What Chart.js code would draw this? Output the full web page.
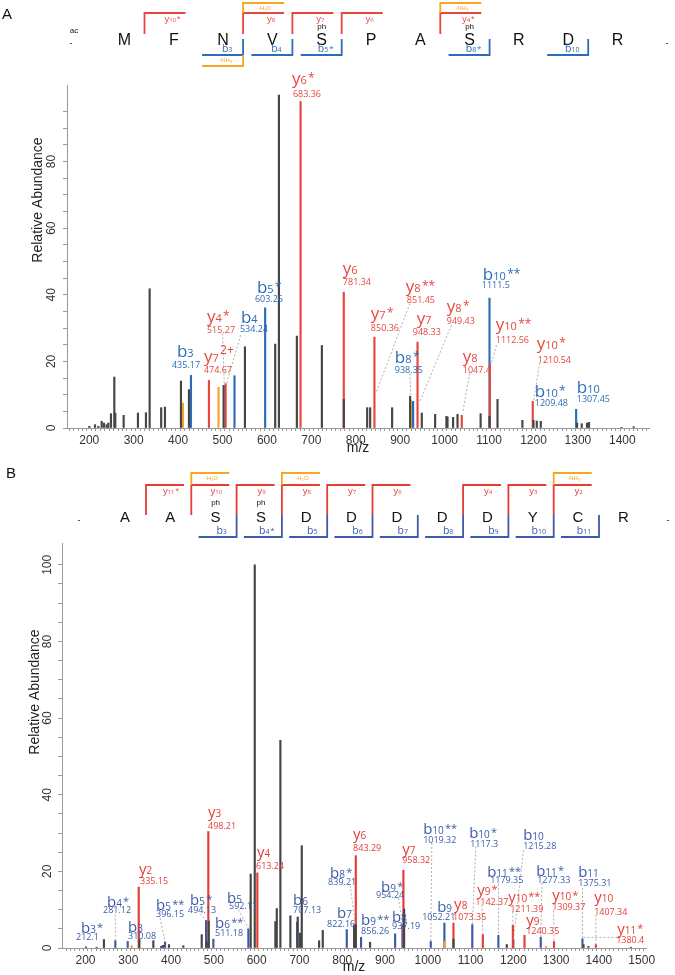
<!DOCTYPE html>
<html lang="en">
<head>
<meta charset="UTF-8">
<title>MS/MS spectra A and B</title>
<style>
  body { margin: 0; background: #fff; }
  canvas { position: absolute; left: 0; }
  #panelA { top: 0; }
  #panelB { top: 460px; }
</style>
</head>
<body>
<canvas id="panelA" width="675" height="460"></canvas>
<canvas id="panelB" width="675" height="515"></canvas>

<script src="https://cdn.jsdelivr.net/npm/chart.js"></script>
<script>
// ---------- panel A peaks (m/z, relative abundance) ----------
const aOtherMz = [200.2, 213, 220.5, 228, 233, 239, 243, 249, 256.5, 258.7, 277.5, 309.7, 327.7, 336, 362, 370.5, 406.5, 424.5, 502.5, 550.5, 618.6, 627, 667.4, 723.7, 773, 825.6, 832.4, 881.8, 922.3, 948.6, 978.6, 1004, 1006.5, 1019, 1029, 1081, 1101, 1119, 1175, 1200, 1207.4, 1216.4, 1298, 1308.6, 1320.5, 1325, 1398, 1425.6];
const aOtherAb = [0.5, 1.0, 0.5, 2.0, 1.5, 1.0, 1.5, 4.3, 15.3, 4.5, 3.8, 4.5, 4.6, 41.8, 6.1, 6.3, 14.1, 11.5, 12.8, 24.4, 25.2, 100, 27.6, 24.8, 8.6, 6.1, 6.1, 6.1, 9.5, 4.5, 4.1, 3.5, 3.3, 3.2, 4.1, 4.3, 3.5, 8.6, 2.3, 2.3, 2.1, 2.0, 1.5, 1.3, 1.5, 1.7, 0.2, 0.4];
const aYMz = [469.5, 507, 675.7, 773, 842, 939, 1038.6, 1102, 1198.4];
const aYAb = [14.3, 13.3, 98, 40.8, 27.3, 25.8, 3.8, 19.3, 8.0];
const aBMz = [429, 527, 596, 929, 1101, 1296];
const aBAb = [15.8, 15.7, 36.1, 8.0, 39, 5.6];
const aLossMz = [411, 491, 924];
const aLossAb = [7.5, 12.2, 8.3];

// ---------- panel B peaks ----------
const bOtherMz = [201, 226, 243, 325.8, 358.5, 376.5, 381, 395, 428.6, 471.6, 483, 488, 586, 595.5, 643.7, 647, 655.4, 678.8, 696, 701.5, 705.4, 745.9, 754.5, 827.7, 831.7, 865, 944.6, 1060, 1184.7, 1364, 1375.5, 1474.6];
const bOtherAb = [0.3, 0.2, 2.2, 2.2, 1.9, 0.4, 0.7, 0.9, 0.6, 3.5, 1.7, 7.0, 19.3, 100, 6.9, 10.3, 54.2, 8.4, 8.1, 3.9, 26.7, 1.9, 4.6, 6.0, 6.1, 1.5, 10.2, 2.3, 0.9, 0.9, 0.4, 0.2];
const bYMz = [324.3, 487, 601.6, 831.7, 943, 1060, 1128.6, 1198.8, 1226, 1295, 1392.8];
const bYAb = [15.9, 30.4, 19.6, 24.1, 20.3, 6.5, 3.5, 5.9, 3.3, 1.7, 0.9];
const bBMz = [269.6, 298.6, 385.8, 481.7, 498.8, 580.6, 694.5, 810.6, 844, 923.6, 940.7, 1007, 1038.8, 1104, 1165, 1200, 1264, 1361.5];
const bBAb = [1.9, 1.7, 1.6, 7.2, 2.3, 5.0, 6.8, 4.8, 2.8, 3.7, 6.1, 1.7, 6.5, 6.1, 3.3, 2.2, 2.8, 2.4];
const bLossMz = [308, 1039.5, 1276.6];
const bLossAb = [0.6, 1.7, 0.4];

// y tick labels shown on both panels
const yTickLabels = [0, 20, 40, 60, 80, 100];

// ---------- peak annotations: [ion, m/z text, anchor m/z, anchor abundance, value dx, value dy] ----------
const aLabels = [
  ['y6*', '683.36', 656.2, 103.2, 1, 13], ['b3', '435.17', 397.5, 21.3, -5, 11],
  ['y4*', '515.27', 465, 31.8, 0, 11], ['y7 2+', '474.67', 458.2, 19.8, 0, 11],
  ['b4', '534.24', 541.5, 31.5, -1, 9], ['b5*', '603.26', 577.4, 40.5, -2, 9],
  ['y6', '781.34', 770.9, 46.2, 0, 11], ['y8**', '851.45', 912.7, 40.8, 1, 11],
  ['y7*', '850.36', 833.9, 32.7, 0, 12], ['y7', '948.33', 937.4, 31.2, -4, 11],
  ['y8*', '949.43', 1004.9, 34.8, 0, 12], ['b8*', '938.35', 887.9, 19.5, 0, 10],
  ['y8', '1047.4', 1040.9, 19.8, 0, 11], ['b10**', '1111.5', 1085.9, 44.4, -1, 8],
  ['y10**', '1112.56', 1115.1, 29.4, 0, 13], ['y10*', '1210.54', 1207.4, 23.7, 1, 14],
  ['b10*', '1209.48', 1202.9, 9.3, 0, 9], ['b10', '1307.45', 1297.4, 10.5, 0, 9]
];
const bLabels = [
  ['b3*', '212.1', 189.4, 4.0, -5, 7], ['b4*', '281.12', 250.2, 10.8, -4, 6],
  ['b3', '310.08', 299.3, 4.3, 0, 7], ['y2', '335.15', 325, 19.4, 1, 10],
  ['b5**', '396.15', 364.8, 10.0, 0, 7], ['b5*', '494.13', 444.3, 11.3, -2, 8],
  ['y3', '498.21', 486.4, 34.3, 0, 12], ['b6**', '511.18', 502.7, 5.3, 0, 8],
  ['b5', '592.11', 530.8, 11.8, 2, 6], ['y4', '613.24', 600.9, 23.8, -1, 12],
  ['b6', '707.13', 685.1, 11.1, 0, 8], ['b8*', '839.21', 771.6, 18.3, -2, 7],
  ['b7', '822.16', 788, 7.9, -10, 9], ['y6', '843.29', 825.4, 28.5, 0, 12],
  ['b9**', '856.26', 844.1, 6.1, 0, 9], ['b9*', '954.24', 890.8, 14.7, -5, 6],
  ['y7', '958.32', 940, 24.6, 0, 9], ['b8', '937.19', 916.6, 6.9, 0, 7],
  ['b10**', '1019.32', 989.1, 29.8, 0, 9], ['b9', '1052.21', 1021.8, 9.5, -15, 8],
  ['y8', '1073.35', 1061.5, 10.3, -1, 11], ['b10*', '1117.3', 1096.6, 28.8, 1, 9],
  ['b11**', '1179.35', 1138.7, 18.6, 3, 6], ['y9*', '1142.37', 1115.3, 13.9, -2, 10],
  ['b10', '1215.28', 1222.9, 28.3, 0, 9], ['y10**', '1211.39', 1187.8, 12.1, 2, 10],
  ['y9', '1240.35', 1229.9, 6.1, 0, 9], ['b11*', '1277.33', 1253.2, 18.9, 1, 7],
  ['y10*', '1309.37', 1290.7, 12.4, 0, 10], ['b11', '1375.31', 1351.5, 18.6, 0, 9],
  ['y10', '1407.34', 1388.8, 12.1, 0, 13], ['y11*', '1380.4', 1442.6, 3.7, -1, 9]
];
// dotted leaders: [m1, ab1, m2, ab2]
const aLeaders = [[500.3, 28.4, 503.9, 13.4], [540.8, 27.9, 509.3, 13.4], [921.7, 37.4, 846.7, 10.9], [1015.4, 30.9, 944.1, 7.9], [921.7, 16.4, 924, 9.4], [1056.6, 16.4, 1040.2, 4.4], [1116.7, 24.9, 1105.4, 19.4], [1214, 19.6, 1200.6, 8.4]];
const bLeaders = [[269.6, 8.7, 269.6, 1.9], [374.1, 7.8, 385.8, 1.7], [467.7, 8.9, 481.7, 7.2], [557.3, 10, 580.6, 5.2], [818.4, 16.3, 830.1, 6.5], [931.3, 13, 941.6, 6.1], [1009.4, 27.4, 1007, 1.7], [1112.3, 26.5, 1104.3, 6.1], [1165, 16.8, 1165, 3.5], [1126.3, 11.3, 1128.6, 3.5], [1223.6, 25.6, 1200.2, 2.2], [1198.8, 9.5, 1198.8, 5.9], [1266.6, 17, 1264.2, 2.8], [1293.7, 9.8, 1295.3, 1.7], [1361.5, 15.7, 1361.5, 2.4], [1392.8, 8.7, 1392.8, 0.9], [1364, 2.8, 1442, 2.8]];

// ---------- peptide sequences and fragment brackets ----------
const seqA = ['M', 'F', 'N', 'V', 'S', 'P', 'A', 'S', 'R', 'D', 'R'];
const phosA = [4, 7];
const yIonsA = [[0, 'y10*'], [2, 'y8'], [3, 'y7'], [4, 'y6'], [6, 'y4*']];
const bIonsA = [[2, 'b3'], [3, 'b4'], [4, 'b5*'], [7, 'b8*'], [9, 'b10']];
const yLossA = [[2, '-H₂O'], [6, '-NH₃']];
const bLossA = [[2, '-NH₃']];

const seqB = ['A', 'A', 'S', 'S', 'D', 'D', 'D', 'D', 'D', 'Y', 'C', 'R'];
const phosB = [2, 3];
const yIonsB = [[0, 'y11*'], [1, 'y10'], [2, 'y9'], [3, 'y8'], [4, 'y7'], [5, 'y6'], [7, 'y4'], [8, 'y3'], [9, 'y2']];
const bIonsB = [[2, 'b3'], [3, 'b4*'], [4, 'b5'], [5, 'b6'], [6, 'b7'], [7, 'b8'], [8, 'b9'], [9, 'b10'], [10, 'b11']];
const yLossB = [[1, '-H₂O'], [3, '-H₂O'], [9, '-NH₃']];
const bLossB = [];

const FONT = '"Liberation Sans", Arial, sans-serif';
const LFONT = '"Open Sans", "Liberation Sans", sans-serif';
const GRAY = '#454545', ORANGE = '#f5a623';

function pts(mz, ab) { return mz.map((m, i) => ({ x: m, y: ab[i] })); }

// ion name like b10** : letter, subscript number, superscript rest
function ionText(ctx, x, y, name, size, color, align) {
  const p = name.match(/^([a-z])(\d+)\s?(.*)$/);
  const fMain = `${size}px ${LFONT}`, fSub = `${Math.round(size * 0.66)}px ${LFONT}`, fSup = `${Math.round(size * 0.72)}px ${LFONT}`;
  ctx.font = fMain; const w1 = ctx.measureText(p[1]).width;
  ctx.font = fSub; const w2 = ctx.measureText(p[2]).width;
  ctx.font = fSup; const w3 = p[3] ? ctx.measureText(p[3]).width + size * 0.08 : 0;
  let cx = align === 'center' ? x - (w1 + w2 + w3) / 2 : x;
  ctx.fillStyle = color; ctx.textAlign = 'left'; ctx.textBaseline = 'alphabetic';
  ctx.font = fMain; ctx.fillText(p[1], cx, y); cx += w1;
  ctx.font = fSub; ctx.fillText(p[2], cx, y); cx += w2 + size * 0.08;
  if (p[3]) {
    ctx.font = fSup;
    const raise = p[3].indexOf('+') >= 0 ? size * 0.45 : size * 0.12;
    ctx.fillText(p[3], cx, y - raise);
  }
}

function poly(ctx, color, list) {
  ctx.strokeStyle = color; ctx.beginPath();
  list.forEach(([x, y], i) => i ? ctx.lineTo(x, y) : ctx.moveTo(x, y));
  ctx.stroke();
}

function headerPlugin(h) {
  return {
    id: 'header',
    afterDraw(chart) {
      const ctx = chart.ctx;
      ctx.save();
      ctx.fillStyle = '#111'; ctx.textAlign = 'left'; ctx.textBaseline = 'alphabetic';
      ctx.font = `15px ${FONT}`;
      ctx.fillText(h.panel, h.panelX, h.panelY);
      ctx.textAlign = 'center';
      ctx.font = `${h.font}px ${FONT}`;
      h.seq.forEach((r, i) => ctx.fillText(r, h.x0 + i * h.step, h.base));
      ctx.font = `8px ${FONT}`;
      h.phos.forEach(i => ctx.fillText('ph', h.x0 + i * h.step, h.phY));
      if (h.ac) ctx.fillText('ac', h.nX, h.base - 12);
      ctx.font = `9px ${FONT}`;
      ctx.fillText('-', h.nX - 3, h.base + 1);
      ctx.fillText('-', h.cX, h.base + 1);

      // y-axis title, placed as in the original figure
      ctx.save();
      ctx.translate(h.yTitleX, h.yTitleY);
      ctx.rotate(-Math.PI / 2);
      ctx.fillStyle = '#222'; ctx.font = `14px ${FONT}`; ctx.textAlign = 'center'; ctx.textBaseline = 'middle';
      ctx.fillText('Relative Abundance', 0, 0);
      ctx.restore();

      const bx = k => h.x0 + k * h.step + h.off;
      ctx.lineWidth = 1.8;
      h.yIons.forEach(([k, name]) => {
        const x = bx(k);
        poly(ctx, h.red, [[x, h.yBot], [x, h.yTop], [x + h.len, h.yTop]]);
        ionText(ctx, x + h.yDx, h.yTop + 9, name, 9.5, h.red, 'center');
      });
      h.yLoss.forEach(([k, t]) => {
        const x = bx(k);
        poly(ctx, ORANGE, [[x, h.yTop], [x, h.lossTop], [x + h.len, h.lossTop]]);
        ctx.fillStyle = ORANGE; ctx.font = `6px ${FONT}`; ctx.textAlign = 'center';
        ctx.fillText(t, x + h.len / 2 + 1, h.lossTop + 6.5);
      });
      h.bIons.forEach(([k, name]) => {
        const x = bx(k);
        poly(ctx, h.blue, [[x, h.bTop], [x, h.bBot], [x - h.len, h.bBot]]);
        ionText(ctx, x + h.bDx, h.bBot - 3, name, 10.5, h.blue, 'center');
      });
      h.bLoss.forEach(([k, t]) => {
        const x = bx(k);
        poly(ctx, ORANGE, [[x, h.bBot], [x, h.bBot + 11], [x - h.len, h.bBot + 11]]);
        ctx.fillStyle = ORANGE; ctx.font = `6px ${FONT}`; ctx.textAlign = 'center';
        ctx.fillText(t, x - h.len / 2 + 3, h.bBot + 7);
      });
      ctx.restore();
    }
  };
}

function labelPlugin(list, leaders, size, red, blue) {
  return {
    id: 'peakLabels',
    afterDatasetsDraw(chart) {
      const ctx = chart.ctx, sx = chart.scales.x, sy = chart.scales.y;
      ctx.save();
      ctx.strokeStyle = '#9a9a9a'; ctx.lineWidth = 0.8; ctx.setLineDash([2, 2]);
      leaders.forEach(([m1, a1, m2, a2]) => {
        ctx.beginPath();
        ctx.moveTo(sx.getPixelForValue(m1), sy.getPixelForValue(a1));
        ctx.lineTo(sx.getPixelForValue(m2), sy.getPixelForValue(a2));
        ctx.stroke();
      });
      ctx.setLineDash([]);
      list.forEach(([ion, val, m, a, dx, dy]) => {
        const col = ion[0] === 'y' ? red : blue;
        const x = sx.getPixelForValue(m), y = sy.getPixelForValue(a);
        ionText(ctx, x, y, ion, size, col, 'left');
        ctx.font = `9px ${LFONT}`; ctx.fillStyle = col; ctx.textAlign = 'left';
        ctx.fillText(val, x + dx, y + dy);
      });
      ctx.restore();
    }
  };
}

function makeSpectrum(id, d) {
  return new Chart(document.getElementById(id), {
    type: 'bar',
    data: {
      datasets: [
        { label: 'unassigned', data: pts(d.oMz, d.oAb), backgroundColor: GRAY },
        { label: 'y ions', data: pts(d.yMz, d.yAb), backgroundColor: d.red },
        { label: 'neutral loss', data: pts(d.lMz, d.lAb), backgroundColor: ORANGE },
        { label: 'b ions', data: pts(d.bMz, d.bAb), backgroundColor: d.blue }
      ]
    },
    options: {
      responsive: false,
      animation: false,
      layout: { padding: { top: d.top, right: d.right, left: 0, bottom: 0 } },
      datasets: { bar: { grouped: false, barThickness: 1.5 } },
      plugins: { legend: { display: false }, tooltip: { enabled: false } },
      scales: {
        x: {
          type: 'linear', min: d.xMin, max: d.xMax, offset: false,
          grid: { drawOnChartArea: false, tickLength: 3, color: '#999', tickColor: '#999' },
          border: { color: '#999', width: 1 },
          ticks: {
            stepSize: 10, autoSkip: false, maxRotation: 0, minRotation: 0, padding: 2,
            color: '#333', font: { family: FONT, size: 12 },
            callback: v => (v % 100 === 0 ? v : '')
          },
          title: { display: true, text: 'm/z', color: '#222', font: { family: FONT, size: 14, lineHeight: 1 }, padding: { top: 0, bottom: d.xTitlePad } },
          afterBuildTicks: s => { s.ticks = s.ticks.filter(t => t.value % 10 === 0); },
          afterFit: s => { s.height = d.xAxisH; }
        },
        y: {
          min: 0, max: d.yMax,
          grid: { drawOnChartArea: false, tickLength: 4, color: '#999', tickColor: '#999' },
          border: { color: '#999', width: 1 },
          ticks: {
            stepSize: 5, autoSkip: false, minRotation: 90, maxRotation: 90, crossAlign: 'center', padding: d.yTickPad,
            color: '#333', font: { family: FONT, size: 12 },
            callback: v => (yTickLabels.includes(v) ? v : '')
          },
          title: { display: false },
          afterBuildTicks: s => { s.ticks = s.ticks.filter(t => t.value % 5 === 0); },
          afterFit: s => { s.width = d.yAxisW; }
        }
      }
    },
    plugins: [headerPlugin(d.header), labelPlugin(d.labels, d.leaders, d.labelSize, d.red, d.blue)]
  });
}

const redA = '#e8453f', blueA = '#2c6cb8';
const redB = '#e63c37', blueB = '#3b5ba9';

makeSpectrum('panelA', {
  oMz: aOtherMz, oAb: aOtherAb, yMz: aYMz, yAb: aYAb, bMz: aBMz, bAb: aBAb, lMz: aLossMz, lAb: aLossAb,
  red: redA, blue: blueA, xMin: 150, xMax: 1460, yMax: 103,
  top: 85, right: 26, xAxisH: 32, yAxisW: 67, xTitlePad: 5, yTickPad: 5,
  labels: aLabels, leaders: aLeaders, labelSize: 17,
  header: {
    panel: 'A', panelX: 2, panelY: 19, seq: seqA, phos: phosA, ac: true,
    x0: 124.5, step: 49.3, base: 45, font: 16, phY: 29, nX: 74, cX: 667,
    off: 20, len: 41, yTop: 13, yBot: 34, lossTop: 3, bTop: 39, bBot: 55, yDx: 28, bDx: -16,
    yIons: yIonsA, bIons: bIonsA, yLoss: yLossA, bLoss: bLossA, red: redA, blue: blueA,
    yTitleX: 38, yTitleY: 200
  }
});

makeSpectrum('panelB', {
  oMz: bOtherMz, oAb: bOtherAb, yMz: bYMz, yAb: bYAb, bMz: bBMz, bAb: bBAb, lMz: bLossMz, lAb: bLossAb,
  red: redB, blue: blueB, xMin: 145, xMax: 1510, yMax: 105.7,
  top: 83, right: 29, xAxisH: 27, yAxisW: 62, xTitlePad: 1, yTickPad: 0,
  labels: bLabels, leaders: bLeaders, labelSize: 15,
  header: {
    panel: 'B', panelX: 6, panelY: 18, seq: seqB, phos: phosB, ac: false,
    x0: 125, step: 45.3, base: 62, font: 15, phY: 45, nX: 82, cX: 668,
    off: 21, len: 38, yTop: 25, yBot: 55, lossTop: 13, bTop: 55, bBot: 77, yDx: 25, bDx: -15,
    yIons: yIonsB, bIons: bIonsB, yLoss: yLossB, bLoss: bLossB, red: redB, blue: blueB,
    yTitleX: 35, yTitleY: 232
  }
});
</script>
</body>
</html>
